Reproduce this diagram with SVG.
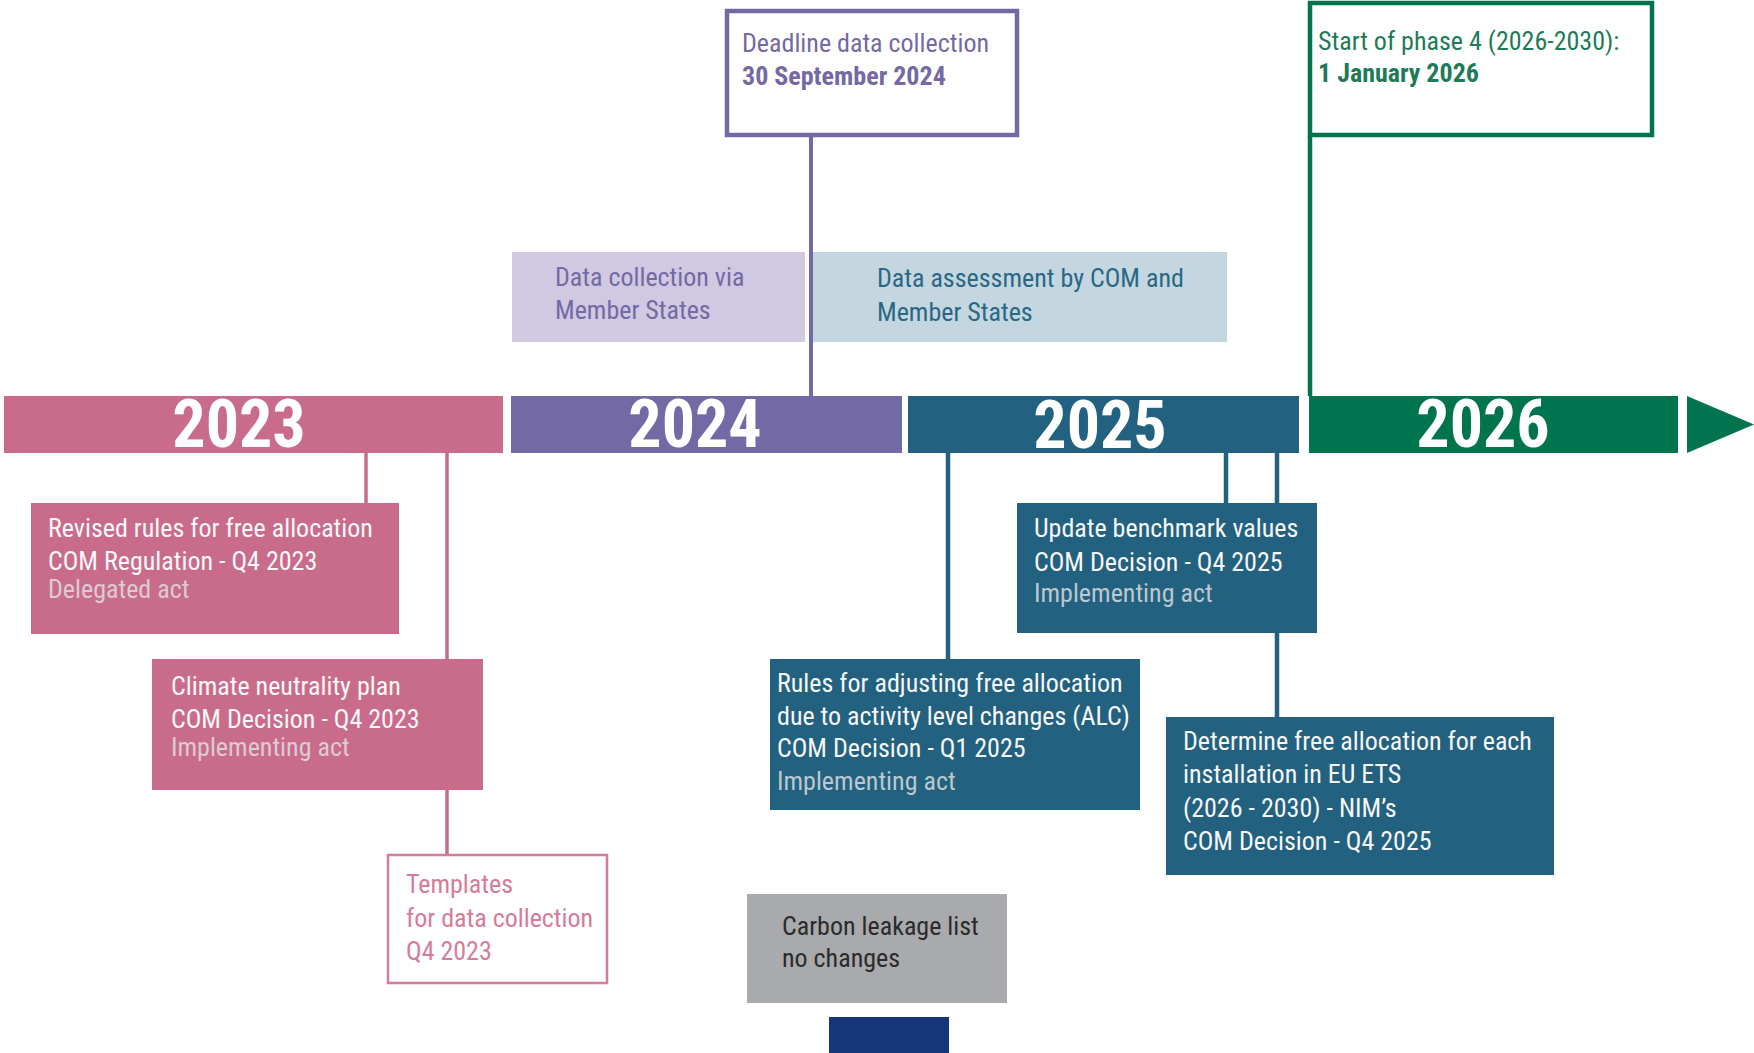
<svg xmlns="http://www.w3.org/2000/svg" width="1754" height="1053" viewBox="0 0 1754 1053">
<style>
  text { font-family: Roboto, "Liberation Sans", sans-serif; font-size: 26px; font-stretch: condensed; }
  .year { font-size: 66px; font-weight: 700; fill: #ffffff; text-anchor: middle; }
  .w { fill: #F7F7F7; }
  .sub-p { fill: #DCCBD2; }
  .sub-b { fill: #BCC8D0; }
  .b { font-weight: 700; }
  .pink { fill: #C96C8B; }
  .purple { fill: #7369A4; }
  .teal { fill: #22617F; }
  .green { fill: #00744F; }
  .lp { stroke: #C96C8B; stroke-width: 3.5; fill: none; }
  .lu { stroke: #7369A4; stroke-width: 4; fill: none; }
  .lt { stroke: #22617F; stroke-width: 4.5; fill: none; }
  .lg { stroke: #00744F; stroke-width: 4.5; fill: none; }
</style>
<rect x="0" y="0" width="1754" height="1053" fill="#ffffff"/>

<g id="connectors">
  <line class="lu" x1="811" y1="136" x2="811" y2="396"/>
  <line class="lg" x1="1310" y1="136" x2="1310" y2="396"/>
  <line class="lp" x1="366" y1="453" x2="366" y2="503"/>
  <line class="lp" x1="447" y1="453" x2="447" y2="854"/>
  <line class="lt" x1="948" y1="453" x2="948" y2="659"/>
  <line class="lt" x1="1226" y1="453" x2="1226" y2="503"/>
  <line class="lt" x1="1277" y1="453" x2="1277" y2="717"/>
</g>

<g id="bar-2023">
  <rect class="pink" x="4" y="396" width="499" height="57"/>
  <text class="year" x="239" y="447">2023</text>
</g>
<g id="bar-2024">
  <rect class="purple" x="511" y="396" width="391" height="57"/>
  <text class="year" x="695" y="447">2024</text>
</g>
<g id="bar-2025">
  <rect class="teal" x="908" y="396" width="391" height="57"/>
  <text class="year" x="1100" y="448">2025</text>
</g>
<g id="bar-2026">
  <rect class="green" x="1309" y="396" width="369" height="57"/>
  <text class="year" x="1483" y="447">2026</text>
  <polygon class="green" points="1687,396 1754,424.5 1687,453"/>
</g>

<g id="deadline">
  <rect x="727" y="11" width="290" height="124" fill="#ffffff" stroke="#7369A4" stroke-width="4.5"/>
  <text class="purple" x="742" y="52">Deadline data collection</text>
  <text class="purple b" x="742" y="85">30 September 2024</text>
</g>

<g id="data-collection">
  <rect x="512" y="252" width="293" height="90" fill="#D0C9E1"/>
  <text class="purple" x="555" y="286">Data collection via</text>
  <text class="purple" x="555" y="319">Member States</text>
</g>

<g id="data-assessment">
  <rect x="813" y="252" width="414" height="90" fill="#C4D7E0"/>
  <text x="877" y="287" fill="#2A6784">Data assessment by COM and</text>
  <text x="877" y="321" fill="#2A6784">Member States</text>
</g>

<g id="phase4">
  <rect x="1310" y="3" width="342" height="132" fill="#ffffff" stroke="#00744F" stroke-width="4.5"/>
  <text x="1318" y="50" fill="#1E7A57">Start of phase 4 (2026-2030):</text>
  <text class="b" x="1318" y="82" fill="#1E7A57">1 January 2026</text>
</g>

<g id="revised-rules">
  <rect class="pink" x="31" y="503" width="368" height="131"/>
  <text class="w" x="48" y="537">Revised rules for free allocation</text>
  <text class="w" x="48" y="570">COM Regulation - Q4 2023</text>
  <text class="sub-p" x="48" y="598">Delegated act</text>
</g>

<g id="climate-plan">
  <rect class="pink" x="152" y="659" width="331" height="131"/>
  <text class="w" x="171" y="695">Climate neutrality plan</text>
  <text class="w" x="171" y="728">COM Decision - Q4 2023</text>
  <text class="sub-p" x="171" y="756">Implementing act</text>
</g>

<g id="templates">
  <rect x="388" y="855" width="219" height="128" fill="#ffffff" stroke="#D47C98" stroke-width="2.5"/>
  <text x="406" y="893" fill="#D47C98">Templates</text>
  <text x="406" y="927" fill="#D47C98">for data collection</text>
  <text x="406" y="960" fill="#D47C98">Q4 2023</text>
</g>

<g id="update-benchmark">
  <rect class="teal" x="1017" y="503" width="300" height="130"/>
  <text class="w" x="1034" y="537">Update benchmark values</text>
  <text class="w" x="1034" y="571">COM Decision - Q4 2025</text>
  <text class="sub-b" x="1034" y="602">Implementing act</text>
</g>

<g id="alc-rules">
  <rect class="teal" x="770" y="659" width="370" height="151"/>
  <text class="w" x="777" y="692">Rules for adjusting free allocation</text>
  <text class="w" x="777" y="725">due to activity level changes (ALC)</text>
  <text class="w" x="777" y="757">COM Decision - Q1 2025</text>
  <text class="sub-b" x="777" y="790">Implementing act</text>
</g>

<g id="determine-allocation">
  <rect class="teal" x="1166" y="717" width="388" height="158"/>
  <text class="w" x="1183" y="750">Determine free allocation for each</text>
  <text class="w" x="1183" y="783">installation in EU ETS</text>
  <text class="w" x="1183" y="817">(2026 - 2030) - NIM’s</text>
  <text class="w" x="1183" y="850">COM Decision - Q4 2025</text>
</g>

<g id="carbon-leakage">
  <rect x="747" y="894" width="260" height="109" fill="#A9AAAD"/>
  <text x="782" y="935" fill="#2B2B2B">Carbon leakage list</text>
  <text x="782" y="967" fill="#2B2B2B">no changes</text>
</g>

<g id="blue-block">
  <rect x="829" y="1017" width="120" height="36" fill="#15367A"/>
</g>
</svg>
